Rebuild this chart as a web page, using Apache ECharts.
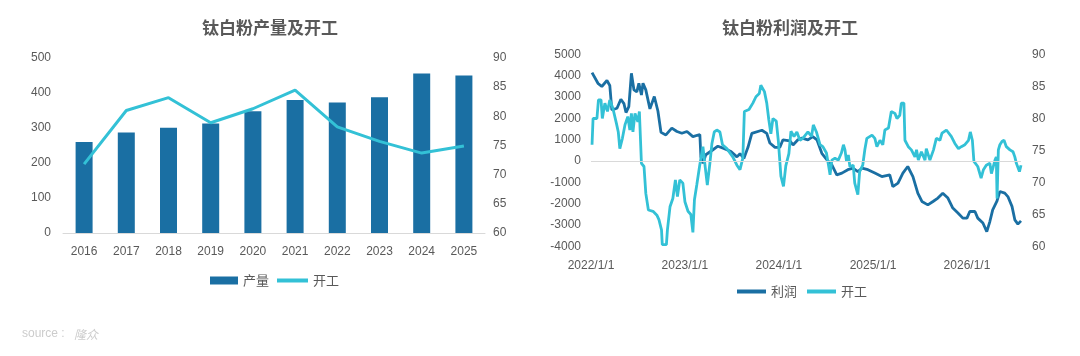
<!DOCTYPE html>
<html>
<head>
<meta charset="utf-8">
<script src="https://cdn.jsdelivr.net/npm/echarts@6/dist/echarts.min.js"></script>
<style>
  html, body { margin: 0; padding: 0; background: #fff; }
  #main { width: 1080px; height: 356px; }
</style>
</head>
<body>
<div id="main"></div>
<script>
// left chart: yearly output (bars) and run rate (line)
var years = ['2016', '2017', '2018', '2019', '2020', '2021', '2022', '2023', '2024', '2025'];
var output = [260, 287, 301, 313, 348, 380, 373, 388, 456, 450];
var runRate = [71.8, 81.0, 83.2, 78.9, 81.3, 84.5, 78.2, 75.7, 73.7, 74.9];

// right chart: profit (left axis) and run rate (right axis)
var profit = [
  ['2022-01-05', 4150], ['2022-01-28', 3650], ['2022-02-12', 3500], ['2022-03-04', 3780],
  ['2022-03-15', 3550], ['2022-03-23', 2400], ['2022-04-12', 2480], ['2022-04-27', 2900],
  ['2022-05-09', 2700], ['2022-05-17', 2280], ['2022-05-28', 2560], ['2022-06-07', 4120],
  ['2022-06-17', 3340], ['2022-06-28', 3250], ['2022-07-06', 3650], ['2022-07-16', 3100],
  ['2022-07-22', 3650], ['2022-08-02', 3340], ['2022-08-18', 2450], ['2022-09-04', 3030],
  ['2022-09-18', 2350], ['2022-09-30', 1350], ['2022-10-19', 1230], ['2022-11-11', 1550],
  ['2022-12-01', 1390], ['2022-12-20', 1310], ['2023-01-09', 1390], ['2023-02-01', 1150],
  ['2023-02-28', 1250], ['2023-03-04', 200], ['2023-03-12', -100], ['2023-03-23', 300],
  ['2023-04-16', 500], ['2023-05-09', 700], ['2023-06-01', 600], ['2023-06-29', 450],
  ['2023-07-22', 200], ['2023-08-03', 350], ['2023-08-18', 130], ['2023-09-03', 650],
  ['2023-09-18', 1300], ['2023-10-27', 1450], ['2023-11-15', 1300], ['2023-11-27', 850],
  ['2023-12-17', 650], ['2024-01-05', 650], ['2024-01-17', 1000], ['2024-02-13', 950],
  ['2024-02-25', 760], ['2024-03-15', 1000], ['2024-03-31', 1080], ['2024-04-23', 1000],
  ['2024-05-12', 1150], ['2024-05-28', 1000], ['2024-06-16', 370], ['2024-07-06', 60],
  ['2024-07-25', -170], ['2024-08-13', -640], ['2024-09-02', -560], ['2024-09-25', -400],
  ['2024-10-15', -330], ['2024-11-03', -490], ['2024-11-19', -330], ['2024-12-12', -400],
  ['2025-01-08', -560], ['2025-02-04', -720], ['2025-03-07', -640], ['2025-03-19', -1190],
  ['2025-04-08', -1030], ['2025-04-27', -560], ['2025-05-16', -250], ['2025-06-05', -720],
  ['2025-06-24', -1500], ['2025-07-10', -1890], ['2025-08-02', -2050], ['2025-08-22', -1890],
  ['2025-09-10', -1730], ['2025-09-29', -1500], ['2025-10-19', -1730], ['2025-11-07', -2200],
  ['2025-11-27', -2430], ['2025-12-16', -2670], ['2026-01-01', -2670], ['2026-01-12', -2360],
  ['2026-02-01', -2360], ['2026-02-12', -2670], ['2026-03-04', -2900], ['2026-03-19', -3300],
  ['2026-03-31', -2830], ['2026-04-11', -2280], ['2026-04-27', -1890], ['2026-05-09', -1420],
  ['2026-05-28', -1500], ['2026-06-09', -1660], ['2026-06-25', -2120], ['2026-07-06', -2750],
  ['2026-07-18', -2950], ['2026-07-30', -2800]
];

var rate = [
  ['2022-01-05', 75.9], ['2022-01-09', 80.0], ['2022-01-24', 80.0], ['2022-01-30', 82.9],
  ['2022-02-09', 82.9], ['2022-02-14', 80.0], ['2022-02-24', 82.4], ['2022-03-06', 81.1],
  ['2022-03-15', 82.9], ['2022-03-27', 81.6], ['2022-04-10', 79.2], ['2022-04-17', 77.9],
  ['2022-04-23', 75.3], ['2022-05-03', 76.9], ['2022-05-13', 79.0], ['2022-05-24', 80.3],
  ['2022-06-01', 78.2], ['2022-06-07', 80.8], ['2022-06-13', 77.9], ['2022-06-21', 80.8],
  ['2022-07-02', 79.5], ['2022-07-08', 81.1], ['2022-07-16', 73.0], ['2022-07-26', 72.5],
  ['2022-08-02', 68.3], ['2022-08-12', 65.7], ['2022-08-30', 65.5], ['2022-09-14', 64.9],
  ['2022-09-22', 64.2], ['2022-10-02', 62.6], ['2022-10-05', 60.3], ['2022-10-21', 60.3],
  ['2022-10-25', 62.6], ['2022-11-04', 66.2], ['2022-11-15', 67.5], ['2022-11-25', 70.4],
  ['2022-12-03', 67.8], ['2022-12-12', 70.4], ['2022-12-24', 69.9], ['2023-01-01', 67.0],
  ['2023-01-13', 65.5], ['2023-01-24', 65.0], ['2023-02-01', 62.2], ['2023-02-07', 67.3],
  ['2023-02-16', 69.6], ['2023-02-28', 72.8], ['2023-03-12', 75.6], ['2023-03-22', 72.0],
  ['2023-03-29', 69.6], ['2023-04-08', 73.0], ['2023-04-16', 76.1], ['2023-04-25', 77.9],
  ['2023-05-05', 78.2], ['2023-05-17', 77.9], ['2023-05-27', 75.9], ['2023-06-13', 75.3],
  ['2023-07-06', 74.0], ['2023-07-22', 72.7], ['2023-08-03', 72.0], ['2023-08-14', 73.8],
  ['2023-08-20', 81.1], ['2023-09-07', 81.4], ['2023-09-22', 82.4], ['2023-10-04', 83.4],
  ['2023-10-17', 83.9], ['2023-10-23', 85.2], ['2023-11-06', 84.2], ['2023-11-15', 82.4],
  ['2023-11-23', 79.8], ['2023-12-01', 77.6], ['2023-12-09', 80.0], ['2023-12-22', 79.6],
  ['2023-12-30', 76.5], ['2024-01-09', 71.0], ['2024-01-19', 69.4], ['2024-01-28', 72.6],
  ['2024-02-09', 74.5], ['2024-02-17', 78.0], ['2024-02-29', 77.2], ['2024-03-11', 77.9],
  ['2024-03-23', 76.6], ['2024-04-03', 76.9], ['2024-04-23', 77.9], ['2024-05-07', 77.2],
  ['2024-05-14', 79.0], ['2024-05-26', 77.9], ['2024-06-09', 75.9], ['2024-06-20', 75.6],
  ['2024-07-04', 74.6], ['2024-07-12', 72.7], ['2024-07-18', 71.2], ['2024-07-25', 73.5],
  ['2024-08-06', 73.8], ['2024-08-19', 73.5], ['2024-08-31', 74.6], ['2024-09-08', 75.9],
  ['2024-09-14', 75.1], ['2024-09-20', 73.3], ['2024-09-27', 74.3], ['2024-10-03', 72.5],
  ['2024-10-16', 72.7], ['2024-10-22', 69.9], ['2024-11-03', 68.1], ['2024-11-10', 71.7],
  ['2024-11-22', 72.7], ['2024-11-30', 75.1], ['2024-12-08', 76.9], ['2024-12-28', 77.4],
  ['2025-01-08', 76.9], ['2025-01-16', 75.6], ['2025-01-28', 76.6], ['2025-02-08', 75.9],
  ['2025-02-16', 78.2], ['2025-03-02', 78.5], ['2025-03-13', 81.1], ['2025-03-27', 80.8],
  ['2025-04-04', 80.0], ['2025-04-15', 80.5], ['2025-04-21', 82.4], ['2025-05-01', 82.4],
  ['2025-05-05', 76.6], ['2025-05-18', 75.6], ['2025-05-30', 75.1], ['2025-06-13', 74.0],
  ['2025-06-19', 75.1], ['2025-06-26', 73.5], ['2025-07-08', 74.8], ['2025-07-22', 73.5],
  ['2025-07-27', 75.3], ['2025-08-10', 73.5], ['2025-08-24', 75.1], ['2025-09-04', 76.9],
  ['2025-09-18', 76.6], ['2025-09-26', 77.7], ['2025-10-13', 78.2], ['2025-11-01', 77.2],
  ['2025-11-15', 76.1], ['2025-11-29', 75.3], ['2025-12-10', 75.6], ['2025-12-24', 75.9],
  ['2026-01-07', 76.6], ['2026-01-14', 77.9], ['2026-01-22', 76.6], ['2026-01-28', 73.3],
  ['2026-02-12', 72.5], ['2026-02-25', 70.7], ['2026-03-06', 72.0], ['2026-03-17', 72.7],
  ['2026-03-31', 73.0], ['2026-04-06', 71.4], ['2026-04-20', 73.5], ['2026-04-25', 74.0],
  ['2026-04-28', 67.5], ['2026-05-03', 75.1], ['2026-05-09', 75.9], ['2026-05-17', 76.4],
  ['2026-05-25', 76.6], ['2026-06-03', 75.6], ['2026-06-17', 75.1], ['2026-06-29', 74.8],
  ['2026-07-06', 74.0], ['2026-07-12', 73.0], ['2026-07-24', 71.7], ['2026-07-30', 72.7]
];

var DARK = '#1a6fa3';
var CYAN = '#33c1d6';
var GREY = '#595959';

var myChart = echarts.init(document.getElementById('main'));

var legendText = { color: GREY, fontSize: 13, fontFamily: 'Noto Sans CJK SC' };
var plain = function (v) { return String(v); };

var option = {
  animation: false,
  textStyle: { fontFamily: "'Liberation Sans', 'Noto Sans CJK SC', sans-serif" },
  graphic: [
    { type: 'text', x: 270, y: 28, style: { text: '钛白粉产量及开工', textAlign: 'center', textVerticalAlign: 'middle', fill: GREY, font: "bold 17px 'Noto Sans CJK SC'" } },
    { type: 'text', x: 790, y: 28, style: { text: '钛白粉利润及开工', textAlign: 'center', textVerticalAlign: 'middle', fill: GREY, font: "bold 17px 'Noto Sans CJK SC'" } },
    { type: 'text', x: 22, y: 334, style: { text: 'source :', textVerticalAlign: 'middle', fill: '#cccccc', font: "12px 'Liberation Sans'" } },
    { type: 'text', x: 74, y: 334, style: { text: '隆众', textVerticalAlign: 'middle', fill: '#cccccc', font: "italic 12px 'Noto Sans CJK SC'" } }
  ],
  legend: [
    {
      left: 210, top: 274, padding: 0, itemWidth: 28, itemHeight: 8,
      textStyle: legendText, data: [{ name: '产量', icon: 'rect' }]
    },
    {
      left: 277, top: 274, padding: 0, itemWidth: 31, itemHeight: 4,
      textStyle: legendText, data: [{ name: '开工', icon: 'rect' }]
    },
    {
      left: 737, top: 285, padding: 0, itemWidth: 29, itemHeight: 4, itemGap: 10,
      textStyle: legendText,
      data: [{ name: '利润', icon: 'rect' }, { name: '开工', icon: 'rect' }]
    }
  ],
  grid: [
    { left: 63, top: 58, width: 422, height: 175 },
    { left: 591, top: 54.5, width: 430, height: 192 }
  ],
  xAxis: [
    {
      type: 'category', gridIndex: 0, data: years,
      axisLine: { lineStyle: { color: '#d9d9d9' } },
      axisTick: { show: false },
      axisLabel: { color: GREY, fontSize: 12, margin: 13 }
    },
    {
      type: 'time', gridIndex: 1,
      min: '2022-01-01', max: '2026-07-30',
      minInterval: 365 * 24 * 3600 * 1000,
      axisLine: { show: false },
      axisTick: { show: false },
      splitLine: { show: false },
      axisLabel: {
        color: GREY, fontSize: 12, margin: 13, showMinLabel: true, showMaxLabel: false,
        formatter: function (v) {
          var d = new Date(v);
          return d.getFullYear() + '/' + (d.getMonth() + 1) + '/' + d.getDate();
        }
      }
    }
  ],
  yAxis: [
    {
      type: 'value', gridIndex: 0, min: 0, max: 500, interval: 100,
      splitLine: { show: false },
      axisLabel: { color: GREY, fontSize: 12, margin: 12, formatter: plain }
    },
    {
      type: 'value', gridIndex: 0, position: 'right', min: 60, max: 90, interval: 5,
      splitLine: { show: false },
      axisLabel: { color: GREY, fontSize: 12, margin: 8, formatter: plain }
    },
    {
      type: 'value', gridIndex: 1, min: -4000, max: 5000, interval: 1000,
      splitLine: { show: false },
      axisLabel: { color: GREY, fontSize: 12, margin: 10, formatter: plain }
    },
    {
      type: 'value', gridIndex: 1, position: 'right', min: 60, max: 90, interval: 5,
      splitLine: { show: false },
      axisLabel: { color: GREY, fontSize: 12, margin: 11, formatter: plain }
    }
  ],
  series: [
    {
      name: '产量', type: 'bar', xAxisIndex: 0, yAxisIndex: 0,
      barWidth: 17, itemStyle: { color: DARK },
      data: output
    },
    {
      name: '开工', type: 'line', xAxisIndex: 0, yAxisIndex: 1,
      showSymbol: false, symbol: 'none',
      lineStyle: { color: CYAN, width: 3 }, itemStyle: { color: CYAN },
      data: runRate
    },
    {
      name: '利润', type: 'line', xAxisIndex: 1, yAxisIndex: 2,
      showSymbol: false, symbol: 'none',
      lineStyle: { color: DARK, width: 2.8 }, itemStyle: { color: DARK },
      data: profit,
      markLine: {
        silent: true, symbol: 'none', label: { show: false },
        lineStyle: { color: '#d9d9d9', type: 'solid', width: 1 },
        data: [{ yAxis: 0 }]
      }
    },
    {
      name: '开工', type: 'line', xAxisIndex: 1, yAxisIndex: 3,
      showSymbol: false, symbol: 'none',
      lineStyle: { color: CYAN, width: 2.8 }, itemStyle: { color: CYAN },
      data: rate
    }
  ]
};

myChart.setOption(option);
</script>
</body>
</html>
